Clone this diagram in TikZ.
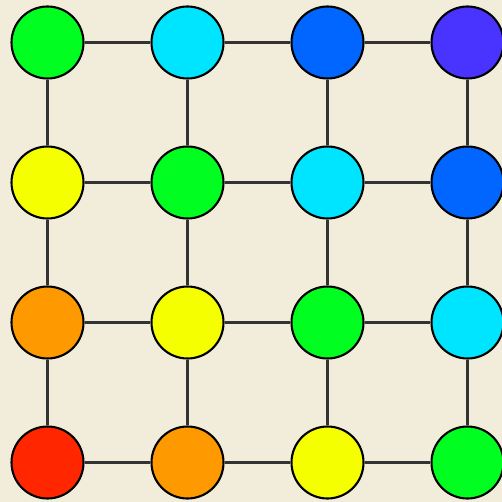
\documentclass[tikz,border=0pt]{standalone}
\usepackage{tikz}
\definecolor{bgbeige}{RGB}{242,237,218}
\definecolor{edgegray}{RGB}{51,51,51}
\definecolor{hue0}{RGB}{255,38,0}
\definecolor{hue1}{RGB}{255,153,0}
\definecolor{hue2}{RGB}{245,255,0}
\definecolor{hue3}{RGB}{0,255,33}
\definecolor{hue4}{RGB}{0,229,255}
\definecolor{hue5}{RGB}{0,102,255}
\definecolor{hue6}{RGB}{72,51,255}
\tikzset{
  vnode/.style={circle,draw=black,line width=1.2pt,minimum size=1.44cm,inner sep=0pt},
  gridedge/.style={draw=edgegray,line width=1.3pt}
}
\begin{document}
\begin{tikzpicture}[x=0.02cm,y=-0.02cm]
  \fill[bgbeige] (0,0) rectangle (502,502);
  \useasboundingbox (0,0) rectangle (502,502);
  % grid vertices
  \foreach \r in {0,...,3}{
    \foreach \c in {0,...,3}{
      \pgfmathtruncatemacro{\h}{\c-\r+3}
      \node[vnode,fill=hue\h] (n-\r-\c) at (47.5+140*\c,42.5+140*\r) {};
    }
  }
  % edges
  \foreach \r in {0,...,3}{
    \foreach \c [evaluate=\c as \d using int(\c+1)] in {0,1,2}{
      \draw[gridedge] (n-\r-\c) -- (n-\r-\d);
      \draw[gridedge] (n-\c-\r) -- (n-\d-\r);
    }
  }
\end{tikzpicture}
\end{document}
